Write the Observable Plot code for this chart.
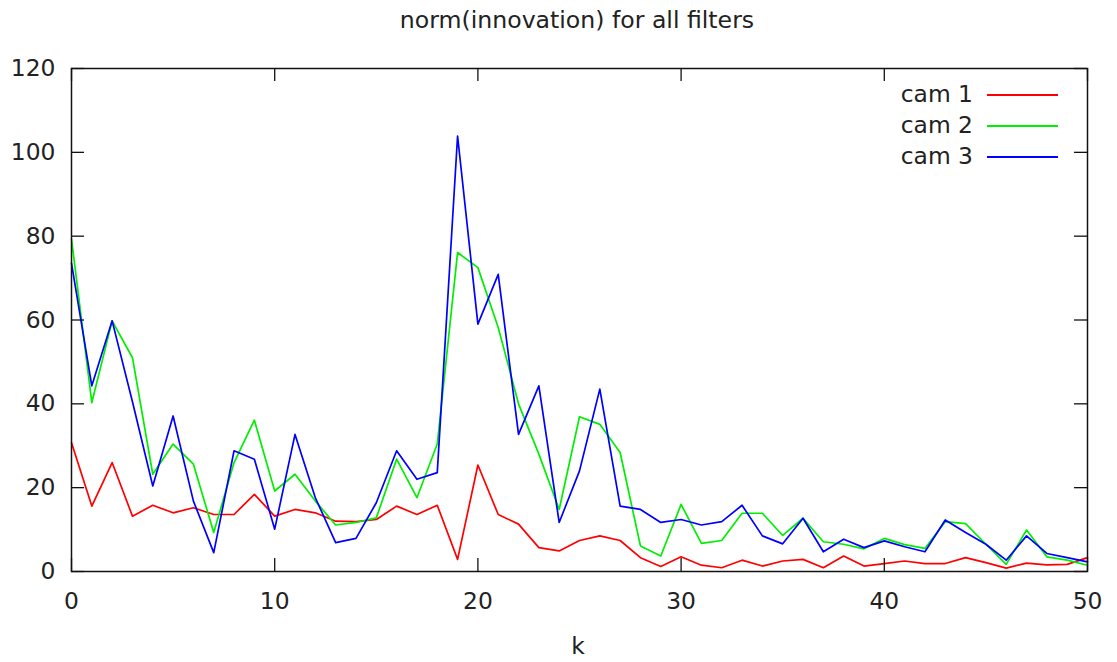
<!DOCTYPE html>
<html>
<head>
<meta charset="utf-8">
<script src="https://cdn.jsdelivr.net/npm/d3@7"></script>
<script src="https://cdn.jsdelivr.net/npm/@observablehq/plot@0.6"></script>
<style>
  body { margin: 0; background: #fff; }
  #wrap { position: relative; width: 1117px; height: 662px; font-family: "DejaVu Sans", sans-serif; color: #222; }
  #wrap svg { position: absolute; left: 0; top: 0; }
  .abs { position: absolute; white-space: nowrap; }
</style>
</head>
<body>
<div id="wrap"></div>
<script>
const title = "norm(innovation) for all filters";
const xLabel = "k";
const k = d3.range(0, 51);
const cam1 = [30.7,15.6,26.0,13.2,15.8,14.0,15.2,13.6,13.6,18.4,
              13.2,14.8,14.0,12.0,11.9,12.4,15.6,13.6,15.8,2.9,
              25.4,13.6,11.3,5.7,4.9,7.4,8.5,7.4,3.3,1.2,
              3.5,1.5,0.9,2.7,1.3,2.5,2.9,0.9,3.7,1.3,
              1.9,2.5,1.9,1.9,3.3,2.1,0.8,2.0,1.6,1.7,3.3];
const cam2 = [79.3,40.3,59.8,51.0,23.2,30.4,25.6,9.3,26.0,36.1,
              19.2,23.2,16.8,11.1,11.7,12.8,26.8,17.6,30.4,76.1,
              72.5,58.2,40.0,28.0,14.8,36.9,35.1,28.4,6.1,3.7,
              16.0,6.7,7.4,13.9,13.9,8.6,12.7,7.1,6.5,5.4,
              7.9,6.4,5.5,11.9,11.4,6.5,1.7,9.9,3.5,2.7,1.5];
const cam3 = [73.5,44.3,59.8,40.5,20.4,37.1,16.8,4.5,28.8,26.8,
              10.1,32.7,17.6,6.9,7.9,16.4,28.8,22.0,23.6,103.9,
              59.0,70.9,32.7,44.3,11.7,24.0,43.5,15.6,14.8,11.7,
              12.4,11.1,11.9,15.8,8.5,6.6,12.7,4.7,7.7,5.7,
              7.3,5.9,4.7,12.3,9.3,6.5,2.7,8.5,4.3,3.3,2.3];
const seriesNames = ["cam 1", "cam 2", "cam 3"];
const seriesColors = ["#ff0000", "#00ee00", "#0000ff"];
const xTicks = [0, 10, 20, 30, 40, 50];
const yTicks = [0, 20, 40, 60, 80, 100, 120];

const W = 1117, H = 662;
const mL = 71, mR = 30, mT = 68, mB = 91;
const innerW = W - mL - mR, innerH = H - mT - mB;
const tickLen = 13;
const fs = 23.4;

const rows = [];
[cam1, cam2, cam3].forEach((arr, si) => arr.forEach((v, i) => rows.push({k: k[i], v, s: seriesNames[si]})));

const chart = Plot.plot({
  width: W, height: H,
  marginLeft: mL, marginRight: mR, marginTop: mT, marginBottom: mB,
  style: {fontFamily: "DejaVu Sans, sans-serif", fontSize: fs + "px", color: "#222", background: "white", overflow: "visible"},
  x: {domain: [0, 50]},
  y: {domain: [0, 120]},
  color: {domain: seriesNames, range: seriesColors},
  marks: [
    Plot.line(rows, {x: "k", y: "v", z: "s", stroke: "s", strokeWidth: 1.7}),
    Plot.tickX(xTicks, {x: d => d, insetTop: innerH - tickLen, stroke: "#111", strokeWidth: 1.3}),
    Plot.tickX(xTicks, {x: d => d, insetBottom: innerH - tickLen, stroke: "#111", strokeWidth: 1.3}),
    Plot.tickY(yTicks, {y: d => d, insetRight: innerW - tickLen, stroke: "#111", strokeWidth: 1.3}),
    Plot.tickY(yTicks, {y: d => d, insetLeft: innerW - tickLen, stroke: "#111", strokeWidth: 1.3}),
    Plot.frame({stroke: "#111", strokeWidth: 1.5}),
    Plot.axisX({ticks: xTicks, tickSize: 0, tickPadding: 21, label: null, fill: "#222"}),
    Plot.axisY({ticks: yTicks, tickSize: 0, tickPadding: 16, label: null, fill: "#222"})
  ]
});

const wrap = document.getElementById("wrap");
wrap.appendChild(chart);

function addText(txt, x, y, anchor, size) {
  const d = document.createElement("div");
  d.className = "abs";
  d.textContent = txt;
  d.style.fontSize = size + "px";
  d.style.lineHeight = "1";
  d.style.top = (y - size / 2) + "px";
  if (anchor === "middle") { d.style.left = x + "px"; d.style.transform = "translateX(-50%)"; }
  else if (anchor === "end") { d.style.right = (W - x) + "px"; }
  else d.style.left = x + "px";
  wrap.appendChild(d);
  return d;
}

addText(title, 577, 21, "middle", 23.6);
addText(xLabel, 578, 647, "middle", fs);

// legend
seriesNames.forEach((name, i) => {
  const cy = 95 + i * 31;
  addText(name, 973, cy, "end", fs);
  const ln = document.createElement("div");
  ln.className = "abs";
  ln.style.left = "987px";
  ln.style.width = "71px";
  ln.style.top = (cy - 1) + "px";
  ln.style.height = "2px";
  ln.style.background = seriesColors[i];
  wrap.appendChild(ln);
});
</script>
</body>
</html>
